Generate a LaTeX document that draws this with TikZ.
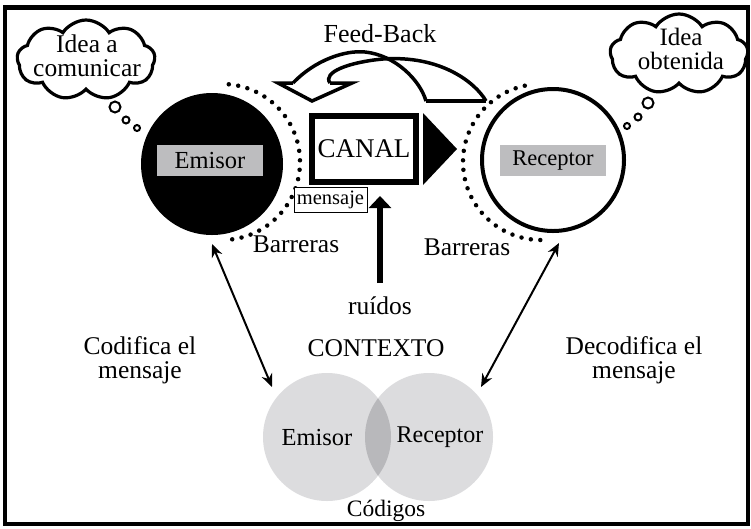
\documentclass[tikz,border=0pt]{standalone}
\usepackage{fontspec}
\setmainfont{Liberation Serif}
\usetikzlibrary{shapes.symbols,arrows.meta}
\definecolor{boxgray}{RGB}{189,189,191}
\definecolor{venn}{RGB}{220,220,222}
\definecolor{venndark}{RGB}{184,184,187}
\begin{document}
\begin{tikzpicture}[x=1pt,y=-1pt,
  txt/.style={font=\fontsize{25.5}{21}\selectfont, inner sep=0pt, align=center},
  dotarc/.style={line width=4.5pt, line cap=round, dash pattern=on 0pt off 9.5pt},
  bubble/.style={circle, draw, line width=2pt, fill=white, inner sep=0pt},
  cloudshape/.style={cloud, cloud puffs=9, cloud puff arc=115, draw, line width=3.2pt, fill=white, minimum width=138pt, minimum height=80pt, inner sep=0pt, aspect=1.8},
  graybox/.style={fill=boxgray, minimum width=106pt, minimum height=31pt, inner sep=0pt},
  link/.style={line width=2pt, {Stealth[length=13pt,width=11pt]}-{Stealth[length=13pt,width=11pt]}},
  fb/.style={line width=3.5pt, line join=miter},
]
\useasboundingbox (0,0) rectangle (751,528);
\fill[white] (0,0) rectangle (751,528);
\draw[line width=4.5pt] (5,7.5) rectangle (748,524);

% Feed-back arrow
\node[txt, anchor=base, font=\fontsize{26}{28}\selectfont] (fbtext) at (380,42) {Feed-Back};
\draw[fb] (293,83) .. controls (315,60) and (345,50) .. (365,52) .. controls (395,55) and (420,80) .. (426,101);
\draw[fb] (330,83) .. controls (322,72) and (350,62) .. (383,59) .. controls (440,55) and (475,82) .. (486,101);
\draw[fb] (426,101) -- (486,101);
\draw[fb] (293,83) -- (278,83) -- (312,101) -- (352,83) -- (330,83);

% Emisor
\draw[dotarc] (222,162) ++(85:78pt) arc[start angle=85, end angle=-85, radius=78pt];
\node[circle, fill=black, minimum size=142pt, inner sep=0pt] (emC) at (212,164) {};
\node[graybox, font=\fontsize{24.5}{26}\selectfont] (emB) at (210,160.5) {Emisor};

% Receptor
\draw[dotarc] (541,162) ++(102:78pt) arc[start angle=102, end angle=272, radius=78pt];
\node[circle, draw, line width=4pt, fill=white, minimum size=142pt, inner sep=0pt] (reC) at (553,160) {};
\node[graybox, font=\fontsize{22.5}{24}\selectfont] (reB) at (553,160.5) {Receptor};

% Clouds
\node[cloudshape] (cloudL) at (86,60) {};
\node[txt, anchor=base, font=\fontsize{25.5}{23.5}\selectfont] (ideaL) at (87,76) {Idea a\\comunicar};
\node[bubble, minimum size=11pt] (bL1) at (115,107) {};
\node[bubble, minimum size=7pt] (bL2) at (126,120) {};
\node[bubble, minimum size=6pt] (bL3) at (137,128) {};

\node[cloudshape] (cloudR) at (679,54) {};
\node[txt, anchor=base, font=\fontsize{25}{23.5}\selectfont] (ideaR) at (681,69) {Idea\\obtenida};
\node[bubble, minimum size=11pt] (bR1) at (648,103) {};
\node[bubble, minimum size=7pt] (bR2) at (638,117) {};
\node[bubble, minimum size=6pt] (bR3) at (627,126) {};

% Canal
\node[draw, line width=6pt, minimum width=104pt, minimum height=66pt, inner sep=0pt, font=\fontsize{27}{29}\selectfont] (canal) at (364,149) {CANAL};
\fill (423,113) -- (457,149) -- (423,185) -- cycle;
\node[draw, line width=1pt, fill=white, minimum width=73pt, minimum height=25pt, inner sep=0pt, font=\fontsize{20.5}{22}\selectfont] (msg) at (330.5,199.5) {mensaje};

% Barreras
\node[txt, anchor=base] (barL) at (296,252) {Barreras};
\node[txt, anchor=base] (barR) at (467,255) {Barreras};

% noise
\node[txt, anchor=base] (ruidos) at (380,314) {ruídos};
\coordinate (nTip) at (380,196);
\draw[line width=6pt, -{Triangle[length=12pt,width=22pt]}] ([yshift=13pt]ruidos.north) -- (nTip);

\node[txt, anchor=base] (ctx) at (376,356) {CONTEXTO};
\node[txt, anchor=base, font=\fontsize{25.5}{24}\selectfont] (cod) at (140,378) {Codifica el\\mensaje};
\node[txt, anchor=base, font=\fontsize{25.5}{24}\selectfont] (dec) at (634,378) {Decodifica el\\mensaje};

% Venn
\node[circle, fill=venn, minimum size=128pt, inner sep=0pt] (vL) at (327,437) {};
\node[circle, fill=venn, minimum size=128pt, inner sep=0pt] (vR) at (429,437) {};
\begin{scope}
  \clip (327,437) circle (64pt);
  \fill[venndark] (429,437) circle (64pt);
\end{scope}
\node[txt, anchor=base, font=\fontsize{24.5}{26}\selectfont] (vLt) at (317,445) {Emisor};
\node[txt, anchor=base, font=\fontsize{24}{26}\selectfont] (vRt) at (440,442) {Receptor};
\node[txt, anchor=base, font=\fontsize{23.5}{26}\selectfont] (codigos) at (386,516) {Códigos};

% links
\coordinate (lA) at (212,244);
\coordinate (lB) at (272,387);
\coordinate (rA) at (559,243);
\coordinate (rB) at (481,387);
\draw[link] (lA) -- (lB);
\draw[link] (rA) -- (rB);
\end{tikzpicture}
\end{document}
